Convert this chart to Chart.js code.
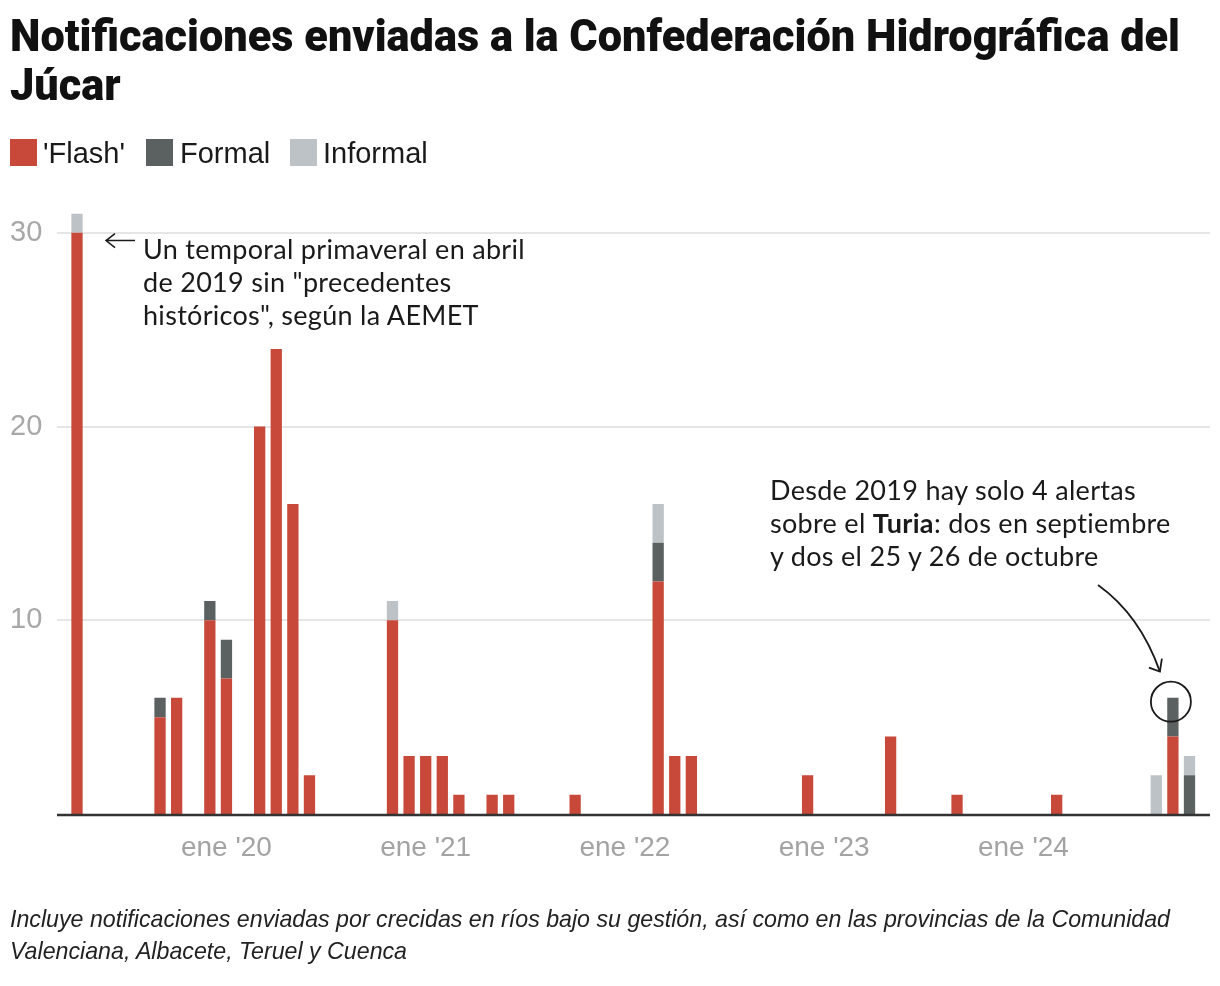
<!DOCTYPE html>
<html lang="es">
<head>
<meta charset="utf-8">
<script src="https://cdn.jsdelivr.net/npm/chart.js@4.4.1/dist/chart.umd.min.js"></script>
<style>
  html, body { margin: 0; padding: 0; background: #fff; }
  #wrap { position: relative; width: 1220px; height: 986px; overflow: hidden; color: #1a1a1a; }
  #chart { position: absolute; left: 0; top: 0; }
  .title { position: absolute; left: 10px; top: 12px; margin: 0; font-family: "Roboto", "Liberation Sans", sans-serif; font-weight: 900; font-size: 44px; line-height: 49px; color: #111; white-space: nowrap; transform-origin: 0 0; }
  .title span { display: block; }
  .leg { position: absolute; font-family: "Liberation Sans", sans-serif; font-size: 29px; line-height: 28px; color: #1a1a1a; }
  .sw { position: absolute; width: 27px; height: 27px; }
  .ann { position: absolute; font-family: "Lato", sans-serif; font-size: 27px; letter-spacing: 0.3px; line-height: 33px; color: #1a1a1a; white-space: nowrap; }
  .foot { position: absolute; left: 10px; top: 903px; font-family: "Liberation Sans", sans-serif; font-style: italic; font-size: 23.2px; line-height: 32px; color: #222; width: 1210px; white-space: nowrap; }
</style>
</head>
<body>
<div id="wrap">
  <canvas id="chart" width="1220" height="986"></canvas>
  <h1 class="title" id="title"><span id="t1">Notificaciones enviadas a la Confederación Hidrográfica del</span><span>Júcar</span></h1>
  <div class="sw" style="left:10px; top:139px; background:#c8493a"></div>
  <div class="leg" style="left:43px; top:139px">'Flash'</div>
  <div class="sw" style="left:146px; top:139px; background:#5a6160"></div>
  <div class="leg" style="left:180px; top:139px">Formal</div>
  <div class="sw" style="left:290px; top:139px; background:#bdc2c6"></div>
  <div class="leg" style="left:323px; top:139px">Informal</div>
  <div class="ann" style="left:143px; top:232px">Un temporal primaveral en abril<br>de 2019 sin "precedentes<br>históricos", según la AEMET</div>
  <div class="ann" style="left:770px; top:473px">Desde 2019 hay solo 4 alertas<br>sobre el <b>Turia</b>: dos en septiembre<br>y dos el 25 y 26 de octubre</div>
  <div class="foot">Incluye notificaciones enviadas por crecidas en ríos bajo su gestión, así como en las provincias de la Comunidad<br>Valenciana, Albacete, Teruel y Cuenca</div>
</div>
<script>
// Categories: one per month, April 2019 to November 2024
const months = [
  '2019-04','2019-05','2019-06','2019-07','2019-08','2019-09','2019-10','2019-11','2019-12',
  '2020-01','2020-02','2020-03','2020-04','2020-05','2020-06','2020-07','2020-08','2020-09','2020-10','2020-11','2020-12',
  '2021-01','2021-02','2021-03','2021-04','2021-05','2021-06','2021-07','2021-08','2021-09','2021-10','2021-11','2021-12',
  '2022-01','2022-02','2022-03','2022-04','2022-05','2022-06','2022-07','2022-08','2022-09','2022-10','2022-11','2022-12',
  '2023-01','2023-02','2023-03','2023-04','2023-05','2023-06','2023-07','2023-08','2023-09','2023-10','2023-11','2023-12',
  '2024-01','2024-02','2024-03','2024-04','2024-05','2024-06','2024-07','2024-08','2024-09','2024-10','2024-11'
];
// Series values (notifications per month)
const flash = [
  30,0,0,0,0,5,6,0,10,
  7,0,20,24,16,2,0,0,0,0,10,3,
  3,3,1,0,1,1,0,0,0,1,0,0,
  0,0,12,3,3,0,0,0,0,0,0,2,
  0,0,0,0,4,0,0,0,1,0,0,0,
  0,0,1,0,0,0,0,0,0,4,0
];
const formal = [
  0,0,0,0,0,1,0,0,1,
  2,0,0,0,0,0,0,0,0,0,0,0,
  0,0,0,0,0,0,0,0,0,0,0,0,
  0,0,2,0,0,0,0,0,0,0,0,0,
  0,0,0,0,0,0,0,0,0,0,0,0,
  0,0,0,0,0,0,0,0,0,2,2
];
const informal = [
  1,0,0,0,0,0,0,0,0,
  0,0,0,0,0,0,0,0,0,0,1,0,
  0,0,0,0,0,0,0,0,0,0,0,0,
  0,0,2,0,0,0,0,0,0,0,0,0,
  0,0,0,0,0,0,0,0,0,0,0,0,
  0,0,0,0,0,0,0,0,2,0,1
];
// Tick labels
const tickMonths = ['2020-01','2021-01','2022-01','2023-01','2024-01'];
const tickTexts  = ["ene '20","ene '21","ene '22","ene '23","ene '24"];
const yTicks = [10, 20, 30];

const RED = '#c8493a', DARK = '#5a6160', LIGHT = '#bdc2c6';

// condense the headline to the reference width
(function () {
  const t1 = document.getElementById('t1');
  const w = t1.getBoundingClientRect().width;
  if (w > 0) document.getElementById('title').style.transform = 'scaleX(' + (1170 / w) + ')';
})();

const decor = {
  id: 'decor',
  beforeDatasetsDraw(chart) {
    const ctx = chart.ctx, y = chart.scales.y;
    ctx.save();
    ctx.strokeStyle = '#e6e6e6';
    ctx.lineWidth = 2;
    yTicks.forEach(v => {
      const py = Math.round(y.getPixelForValue(v));
      ctx.beginPath(); ctx.moveTo(57, py); ctx.lineTo(1210, py); ctx.stroke();
    });
    ctx.restore();
  },
  afterDatasetsDraw(chart) {
    const ctx = chart.ctx, x = chart.scales.x, y = chart.scales.y;
    ctx.save();
    const py0 = y.getPixelForValue(0);
    ctx.strokeStyle = '#333';
    ctx.lineWidth = 2.5;
    ctx.beginPath(); ctx.moveTo(57, py0 + 1); ctx.lineTo(1210, py0 + 1); ctx.stroke();

    // arrow pointing at April 2019 bar
    ctx.strokeStyle = '#1a1a1a';
    ctx.lineWidth = 1.5;
    const ax = x.getPixelForValue(0) + 29, ay = y.getPixelForValue(29.6);
    ctx.beginPath();
    ctx.moveTo(ax + 29, ay); ctx.lineTo(ax, ay);
    ctx.moveTo(ax + 9, ay - 7); ctx.lineTo(ax, ay); ctx.lineTo(ax + 9, ay + 7);
    ctx.stroke();

    // circle around October 2024 formal alerts
    const cx = x.getPixelForValue(66) - 2, cy = y.getPixelForValue(5.8);
    ctx.lineWidth = 1.8;
    ctx.beginPath(); ctx.arc(cx, cy, 20, 0, Math.PI * 2); ctx.stroke();

    // curved arrow from the annotation to the circle
    const tx = cx - 11, ty = cy - 30;
    ctx.beginPath();
    ctx.moveTo(1098, 585);
    ctx.quadraticCurveTo(1140, 615, tx, ty);
    ctx.stroke();
    ctx.beginPath();
    ctx.moveTo(tx - 11, ty - 4); ctx.lineTo(tx, ty); ctx.lineTo(tx + 2, ty - 13);
    ctx.stroke();
    ctx.restore();
  }
};

new Chart(document.getElementById('chart'), {
  type: 'bar',
  data: {
    labels: months,
    datasets: [
      { label: "'Flash'", data: flash, backgroundColor: RED },
      { label: 'Formal', data: formal, backgroundColor: DARK },
      { label: 'Informal', data: informal, backgroundColor: LIGHT }
    ]
  },
  options: {
    responsive: false,
    devicePixelRatio: 1,
    animation: false,
    layout: { padding: { left: 10, right: 22.2, top: 213.5, bottom: 112 } },
    plugins: { legend: { display: false }, tooltip: { enabled: false } },
    datasets: { bar: { barPercentage: 0.68, categoryPercentage: 1, borderWidth: 0 } },
    scales: {
      x: {
        stacked: true,
        grid: { display: false, drawTicks: false },
        border: { display: false },
        afterFit(s) { s.height = 60; },
        ticks: {
          autoSkip: false, maxRotation: 0, minRotation: 0, padding: 17,
          color: '#a3a3a3',
          font: { family: 'Liberation Sans', size: 28 },
          callback(v) {
            const k = tickMonths.indexOf(months[v]);
            return k >= 0 ? tickTexts[k] : '';
          }
        }
      },
      y: {
        stacked: true, min: 0, max: 31,
        grid: { display: false, drawTicks: false },
        border: { display: false },
        afterFit(s) { s.width = 58.7; },
        afterBuildTicks(s) { s.ticks = [0].concat(yTicks).map(v => ({ value: v })); },
        ticks: {
          crossAlign: 'far', padding: 0,
          color: '#a8a8a8',
          font: { family: 'Liberation Sans', size: 29 },
          callback(v) { return yTicks.includes(v) ? String(v) : ''; }
        }
      }
    }
  },
  plugins: [decor]
});
</script>
</body>
</html>
